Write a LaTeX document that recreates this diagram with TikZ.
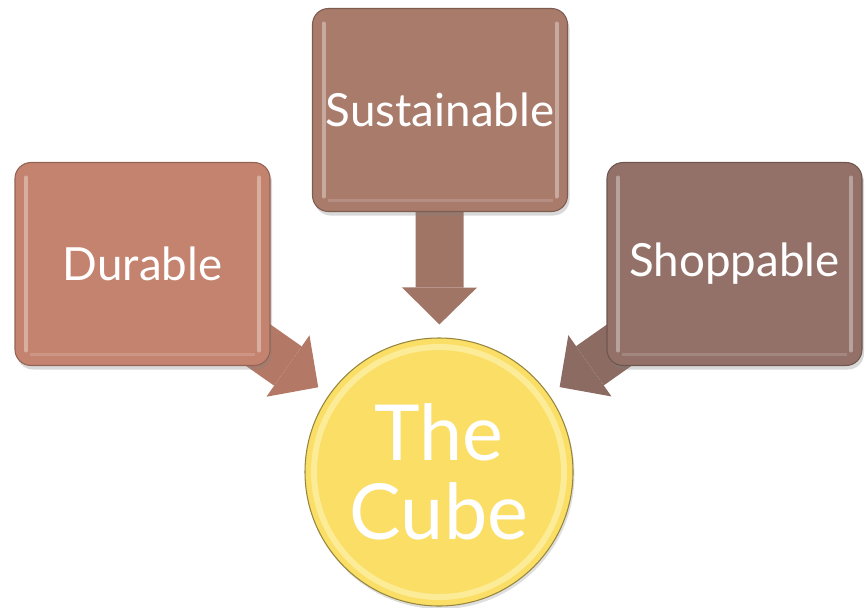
\documentclass[tikz,border=0pt]{standalone}
\usepackage{fontspec}
\setmainfont{Lato}
\usetikzlibrary{arrows.meta, shadows, backgrounds}

\definecolor{durablebrown}{HTML}{C4836F}
\definecolor{sustainbrown}{HTML}{A97B6B}
\definecolor{shopbrown}{HTML}{937168}
\definecolor{cubeyellow}{HTML}{FADE66}
\definecolor{cuberim}{HTML}{FCEC98}

\begin{document}
\begin{tikzpicture}[
        box/.style={draw=#1!75!black, fill=#1, rounded corners=0.32cm,
            minimum width=5.1cm, minimum height=4.06cm, line width=0.6pt,
            text=white, font=\fontsize{26}{30}\selectfont,
            drop shadow={opacity=0.3, shadow xshift=0.04cm, shadow yshift=-0.08cm},
            path picture={
                \draw[white, opacity=0.35, line width=0.08cm, line cap=round]
                    ([shift={(0.22cm,0.3cm)}]path picture bounding box.south west) --
                    ([shift={(0.22cm,-0.3cm)}]path picture bounding box.north west);
                \draw[white, opacity=0.35, line width=0.08cm, line cap=round]
                    ([shift={(-0.22cm,0.3cm)}]path picture bounding box.south east) --
                    ([shift={(-0.22cm,-0.3cm)}]path picture bounding box.north east);
                \draw[white, opacity=0.15, line width=0.06cm]
                    ([shift={(0.3cm,0.22cm)}]path picture bounding box.south west) --
                    ([shift={(-0.3cm,0.22cm)}]path picture bounding box.south east);}},
        blockarrow/.style={draw=#1, line width=0.96cm, line cap=butt,
            -{Triangle[width=1.5cm, length=0.74cm, line width=0pt, fill=#1]},
            shorten >=0.26cm}
    ]
        \useasboundingbox (0,0) rectangle (17.36,12.14);

        % the three boxes
        \node[box=durablebrown] (durable) at (2.85,6.86) {Durable};
        \node[box=sustainbrown] (sustainable) at (8.8,9.94) {Sustainable};
        \node[box=shopbrown] (shoppable) at (14.69,6.86) {Shoppable};

        % the cube in the middle
        \node[circle, draw=cubeyellow!60!black, fill=cubeyellow, line width=0.6pt,
            minimum size=5.36cm, inner sep=0pt, text=white, align=center,
            font=\fontsize{44}{45}\selectfont,
            drop shadow={opacity=0.25, shadow xshift=0.03cm, shadow yshift=-0.06cm},
            path picture={\draw[cuberim, line width=0.12cm]
                (path picture bounding box.center) circle (2.5cm);}]
            (cube) at (8.78,2.70) {The\\Cube};

        \begin{scope}[on background layer]
            \draw[blockarrow=durablebrown!92!black] (durable.center) -- (cube);
            \draw[blockarrow=sustainbrown!95!black] (sustainable.center) -- (cube);
            \draw[blockarrow=shopbrown!95!black] (shoppable.center) -- (cube);
        \end{scope}
    \end{tikzpicture}
\end{document}
